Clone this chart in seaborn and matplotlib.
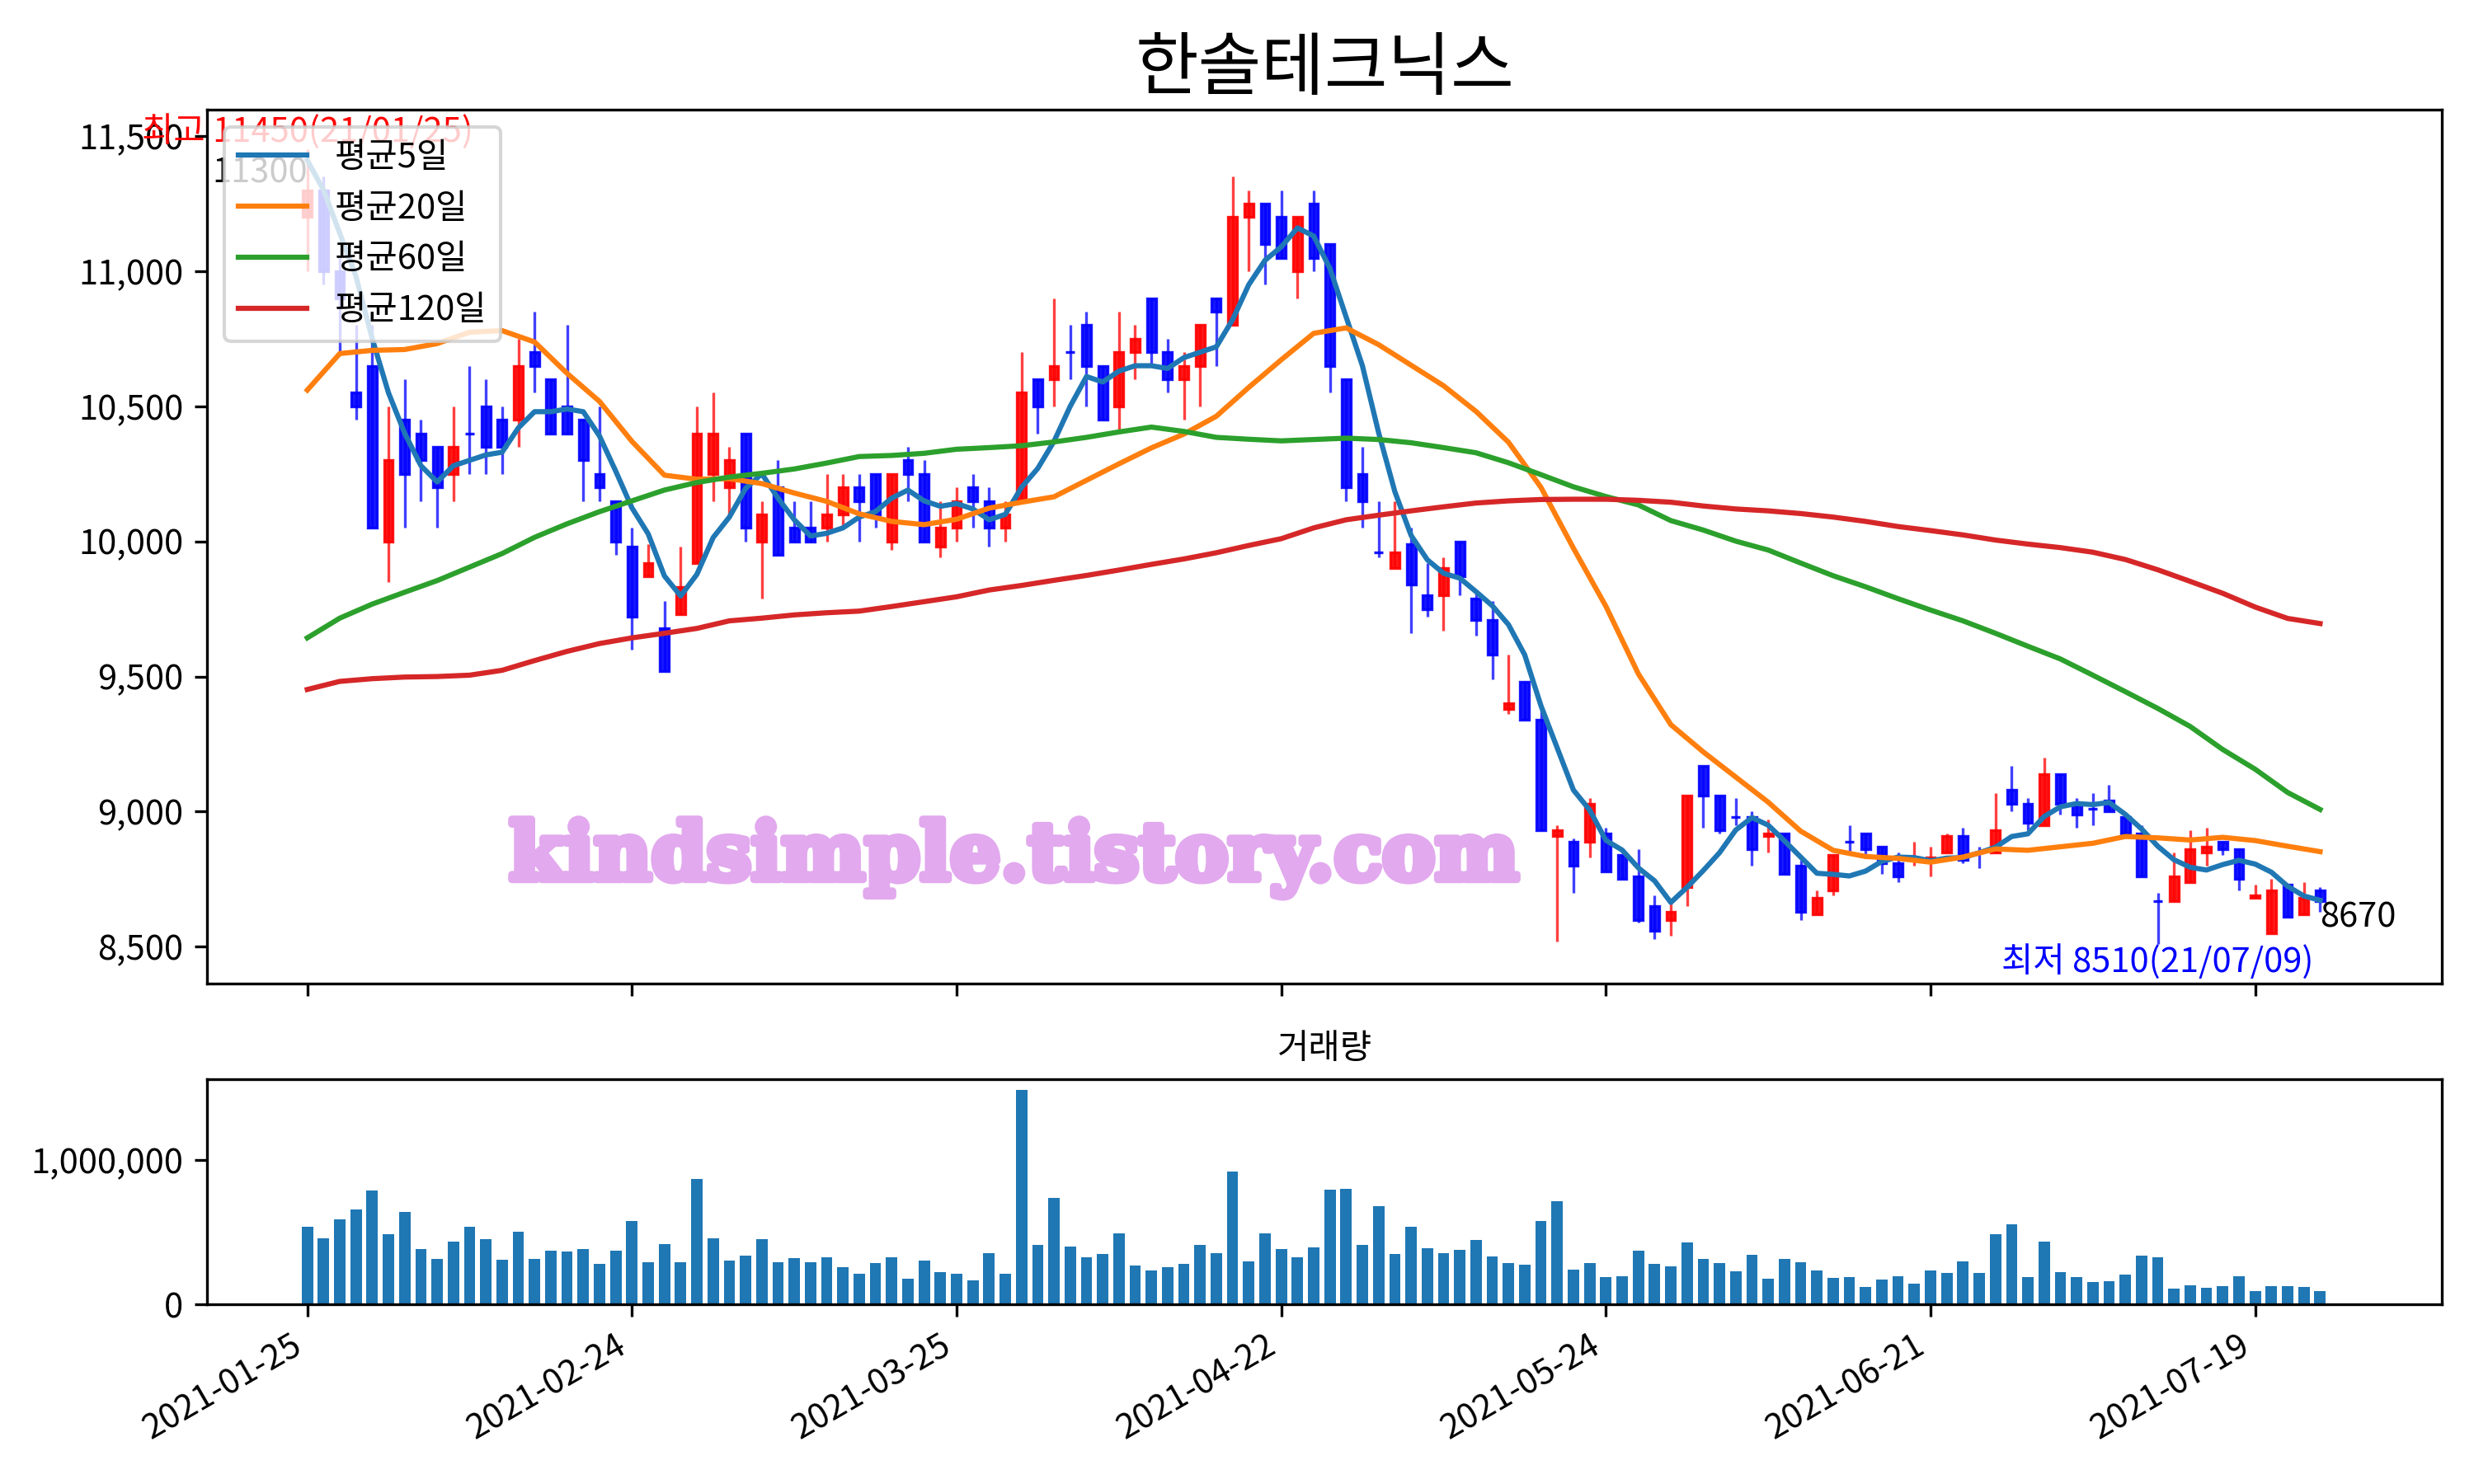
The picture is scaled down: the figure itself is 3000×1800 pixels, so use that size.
import numpy as np
import pandas as pd
import matplotlib
matplotlib.use("Agg")
import matplotlib.pyplot as plt
import matplotlib.patheffects as pe
from matplotlib.ticker import FuncFormatter, MultipleLocator
import seaborn as sns

TITLE = "한솔테크닉스"
WATERMARK = "kindsimple.tistory.com"

# x tick labels every 20 trading days (2021-01-25 ~ 2021-07-23, 125 days)
tick_pos = [0, 20, 40, 60, 80, 100, 120]
tick_labels = ["2021-01-25", "2021-02-24", "2021-03-25", "2021-04-22",
               "2021-05-24", "2021-06-21", "2021-07-19"]
high_date = "21/01/25"
low_date = "21/07/09"

# daily OHLC
open_ = [11200, 11300, 11000, 10550, 10650, 10000, 10450, 10400, 10350, 10250,
         10400, 10500, 10450, 10450, 10700, 10600, 10500, 10450, 10250, 10150,
         9980, 9870, 9680, 9730, 9920, 10250, 10200, 10400, 10000, 10200,
         10050, 10050, 10050, 10100, 10200, 10250, 10000, 10300, 10250, 9980,
         10050, 10200, 10150, 10050, 10150, 10600, 10600, 10700, 10800, 10650,
         10500, 10700, 10900, 10700, 10600, 10650, 10900, 10800, 11200, 11250,
         11200, 11000, 11250, 11100, 10600, 10250, 9960, 9900, 9990, 9800,
         9800, 10000, 9790, 9710, 9380, 9480, 9340, 8910, 8890, 8890,
         8920, 8840, 8760, 8650, 8600, 8720, 9170, 9060, 8980, 8980,
         8910, 8920, 8800, 8620, 8710, 8890, 8920, 8870, 8810, 8820,
         8820, 8850, 8910, 8850, 8850, 9080, 9030, 8950, 9140, 9030,
         9010, 9040, 8980, 8920, 8670, 8670, 8740, 8850, 8890, 8860,
         8680, 8550, 8730, 8620, 8710]
high = [11450, 11350, 11050, 10800, 10800, 10500, 10600, 10450, 10350, 10500,
        10650, 10600, 10500, 10750, 10850, 10600, 10800, 10450, 10500, 10150,
        10050, 9990, 9780, 9980, 10500, 10550, 10350, 10400, 10150, 10300,
        10150, 10150, 10250, 10250, 10250, 10250, 10250, 10350, 10300, 10150,
        10200, 10250, 10200, 10150, 10700, 10600, 10900, 10800, 10850, 10650,
        10850, 10800, 10900, 10750, 10700, 10800, 10900, 11350, 11300, 11250,
        11300, 11200, 11300, 11100, 10600, 10350, 10150, 10150, 10050, 9920,
        9940, 10000, 9810, 9780, 9580, 9480, 9380, 8950, 8900, 9050,
        8940, 8840, 8860, 8690, 8660, 9060, 9170, 9060, 9050, 9000,
        8970, 8920, 8820, 8710, 8840, 8950, 8920, 8870, 8850, 8890,
        8870, 8920, 8940, 8870, 9070, 9170, 9050, 9200, 9140, 9050,
        9070, 9100, 8980, 8950, 8700, 8850, 8930, 8940, 8890, 8860,
        8730, 8750, 8730, 8740, 8720]
low = [11000, 10950, 10700, 10450, 10050, 9850, 10050, 10150, 10050, 10150,
       10250, 10250, 10250, 10350, 10550, 10400, 10400, 10150, 10150, 9950,
       9600, 9870, 9520, 9730, 9920, 10150, 10100, 10000, 9790, 9950,
       10000, 10000, 10000, 10050, 10000, 10050, 9970, 10150, 10000, 9940,
       10000, 10050, 9980, 10000, 10150, 10400, 10500, 10600, 10500, 10450,
       10400, 10600, 10650, 10550, 10450, 10500, 10650, 10800, 11000, 10950,
       11050, 10900, 11000, 10550, 10150, 10050, 9940, 9900, 9660, 9720,
       9670, 9800, 9650, 9490, 9360, 9340, 8930, 8520, 8700, 8830,
       8780, 8750, 8590, 8530, 8540, 8650, 8940, 8920, 8950, 8800,
       8850, 8770, 8600, 8620, 8690, 8850, 8840, 8770, 8740, 8800,
       8760, 8850, 8810, 8790, 8850, 9000, 8930, 8950, 8990, 8940,
       8950, 9000, 8910, 8760, 8510, 8670, 8740, 8800, 8840, 8710,
       8680, 8550, 8610, 8620, 8630]
close = [11300, 11000, 10900, 10500, 10050, 10300, 10250, 10300, 10200, 10350,
         10400, 10350, 10350, 10650, 10650, 10400, 10400, 10300, 10200, 10000,
         9720, 9920, 9520, 9830, 10400, 10400, 10300, 10050, 10100, 9950,
         10000, 10000, 10100, 10200, 10150, 10100, 10250, 10250, 10000, 10050,
         10150, 10150, 10050, 10100, 10550, 10500, 10650, 10700, 10650, 10450,
         10700, 10750, 10700, 10600, 10650, 10800, 10850, 11200, 11250, 11100,
         11050, 11200, 11050, 10650, 10200, 10150, 9960, 9960, 9840, 9750,
         9900, 9870, 9710, 9580, 9400, 9340, 8930, 8930, 8800, 9030,
         8780, 8750, 8600, 8560, 8630, 9060, 9060, 8930, 8980, 8860,
         8920, 8770, 8630, 8680, 8840, 8890, 8860, 8810, 8760, 8830,
         8830, 8910, 8820, 8850, 8930, 9030, 8960, 9140, 9030, 8990,
         9010, 9000, 8920, 8760, 8670, 8760, 8860, 8870, 8860, 8750,
         8690, 8710, 8610, 8680, 8670]
# closes of the 4 sessions before the window (needed for the first 5-day averages)
pre_close = [11550, 11700, 11300, 11200]

volume = [536000, 458000, 589000, 657000, 788000, 487000, 640000, 384000, 316000, 436000,
          538000, 453000, 311000, 504000, 316000, 373000, 367000, 384000, 282000, 373000,
          578000, 294000, 419000, 294000, 867000, 458000, 305000, 339000, 453000, 294000,
          322000, 294000, 328000, 259000, 214000, 288000, 328000, 180000, 305000, 225000,
          214000, 169000, 356000, 214000, 1487000, 413000, 737000, 402000, 328000, 350000,
          492000, 271000, 237000, 259000, 282000, 413000, 356000, 919000, 299000, 492000,
          384000, 328000, 396000, 794000, 799000, 413000, 680000, 350000, 538000, 390000,
          356000, 379000, 447000, 333000, 288000, 277000, 578000, 714000, 242000, 288000,
          191000, 197000, 373000, 282000, 265000, 430000, 316000, 288000, 231000, 345000,
          180000, 316000, 294000, 237000, 186000, 191000, 123000, 174000, 197000, 146000,
          237000, 220000, 299000, 220000, 487000, 555000, 191000, 436000, 225000, 191000,
          157000, 163000, 208000, 339000, 328000, 112000, 134000, 117000, 129000, 197000,
          95000, 129000, 129000, 123000, 95000]

# longer moving averages, read every 2nd session
ma_idx = list(range(0, 125, 2))
ma20 = [10560, 10695, 10707, 10710, 10732, 10774, 10780, 10738, 10622, 10518,
        10370, 10245, 10230, 10232, 10214, 10179, 10148, 10102, 10074, 10062,
        10082, 10123, 10145, 10165, 10226, 10287, 10346, 10397, 10463, 10570,
        10672, 10770, 10790, 10728, 10652, 10576, 10481, 10367, 10200, 9975,
        9760, 9510, 9322, 9221, 9128, 9035, 8928, 8857, 8834, 8827,
        8813, 8832, 8862, 8857, 8870, 8883, 8908, 8903, 8895, 8905,
        8893, 8872, 8852]
ma60 = [9643, 9716, 9768, 9812, 9855, 9905, 9955, 10015, 10065, 10110,
        10150, 10190, 10218, 10238, 10252, 10268, 10290, 10314, 10318, 10326,
        10341, 10347, 10354, 10368, 10385, 10405, 10423, 10407, 10385, 10378,
        10372, 10377, 10382, 10377, 10365, 10347, 10328, 10291, 10247, 10202,
        10166, 10135, 10077, 10042, 10001, 9968, 9920, 9873, 9832, 9788,
        9746, 9706, 9660, 9612, 9565, 9505, 9444, 9382, 9315, 9230,
        9157, 9071, 9008]
ma120 = [9452, 9482, 9492, 9498, 9500, 9505, 9523, 9559, 9593, 9622,
         9643, 9660, 9678, 9706, 9716, 9728, 9736, 9742, 9759, 9777,
         9795, 9820, 9837, 9856, 9874, 9894, 9915, 9935, 9958, 9985,
         10010, 10050, 10080, 10097, 10113, 10128, 10142, 10150, 10155, 10156,
         10156, 10152, 10145, 10131, 10120, 10113, 10103, 10090, 10074, 10055,
         10040, 10024, 10005, 9990, 9977, 9960, 9933, 9895, 9852, 9808,
         9757, 9715, 9696]


def main():
    plt.rcParams['font.family'] = ['Noto Sans CJK KR', 'DejaVu Sans']
    plt.rcParams['axes.unicode_minus'] = False

    df = pd.DataFrame({'open': open_, 'high': high, 'low': low,
                       'close': close, 'volume': volume})
    df['x'] = np.arange(len(df))
    ext = pd.Series(pre_close + close)
    df['ma5'] = ext.rolling(5).mean().iloc[len(pre_close):].values

    fig = plt.figure(figsize=(10, 6), dpi=300)
    gs = fig.add_gridspec(2, 1, height_ratios=[0.589, 0.152], hspace=0.173,
                          left=0.0838, right=0.987, top=0.926, bottom=0.121)
    ax1 = fig.add_subplot(gs[0])
    ax2 = fig.add_subplot(gs[1], sharex=ax1)

    # candles: red = up, blue = down / flat
    colors = np.where(df['close'] > df['open'], 'red', 'blue')
    ax1.vlines(df['x'], df['low'], df['high'], colors=colors, linewidth=0.8, alpha=0.75)
    body_bottom = df[['open', 'close']].min(axis=1)
    body_h = (df['close'] - df['open']).abs()
    ax1.bar(df['x'], body_h, bottom=body_bottom, width=0.55, color=colors,
            edgecolor=colors, linewidth=0.8, alpha=0.9)

    # moving averages
    sns.lineplot(x=df['x'], y=df['ma5'], ax=ax1, color='tab:blue', linewidth=1.5, label='평균5일')
    sns.lineplot(x=ma_idx, y=ma20, ax=ax1, color='tab:orange', linewidth=1.5, label='평균20일')
    sns.lineplot(x=ma_idx, y=ma60, ax=ax1, color='tab:green', linewidth=1.5, label='평균60일')
    sns.lineplot(x=ma_idx, y=ma120, ax=ax1, color='tab:red', linewidth=1.5, label='평균120일')

    # annotations
    imax = int(np.argmax(high))
    imin = int(np.argmin(low))
    ax1.text(imax, high[imax], f'최고 {high[imax]}({high_date})', color='red',
             ha='center', va='bottom', fontsize=10, clip_on=False)
    ax1.text(0, close[0], f'{close[0]}', ha='right', va='bottom', fontsize=10)
    ax1.text(imin, low[imin], f'최저 {low[imin]}({low_date})', color='blue',
             ha='center', va='top', fontsize=10)
    ax1.text(len(close) - 1, close[-1], f'{close[-1]}', ha='left', va='top', fontsize=10)
    wm_color = '#E2A9EE'
    ax1.text(0.361, 0.144, WATERMARK, transform=ax1.transAxes, ha='center', va='center',
             fontsize=23, color=wm_color, fontweight='bold', family='DejaVu Serif',
             path_effects=[pe.withStroke(linewidth=2.2, foreground=wm_color)])

    ax1.legend(loc='upper left')
    ax1.set_title(TITLE, fontsize=20)
    ax1.set_xlabel('')
    ax1.set_ylabel('')
    ax1.set_ylim(8363, 11597)
    ax1.yaxis.set_major_locator(MultipleLocator(500))
    ax1.yaxis.set_major_formatter(FuncFormatter(lambda v, p: f'{v:,.0f}'))
    ax1.tick_params(labelbottom=False)

    # volume
    sns.barplot(x=df['x'], y=df['volume'], ax=ax2, native_scale=True, width=0.7,
                color='#1f77b4', saturation=1, errorbar=None)
    ax2.set_title('거래량', fontsize=10)
    ax2.set_xlabel('')
    ax2.set_ylabel('')
    ax2.set_ylim(0, 1561000)
    ax2.yaxis.set_major_locator(MultipleLocator(1000000))
    ax2.yaxis.set_major_formatter(FuncFormatter(lambda v, p: f'{v:,.0f}'))

    ax2.set_xticks(tick_pos)
    ax2.set_xticklabels(tick_labels, rotation=30, ha='right')
    ax1.set_xlim(-6.16, 131.5)

    fig.savefig('out.png', dpi=300)
    print("saved out.png")


if __name__ == "__main__":
    main()
